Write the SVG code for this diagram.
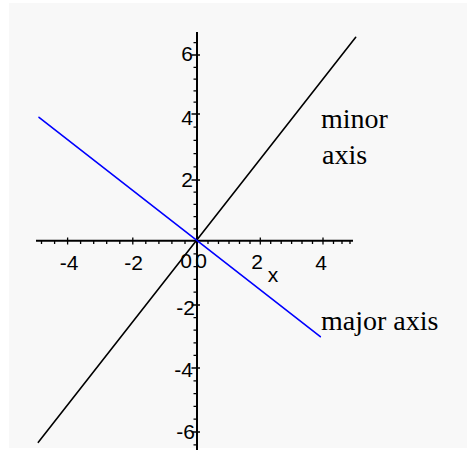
<svg xmlns="http://www.w3.org/2000/svg" width="467" height="450" viewBox="0 0 467 450">
<style>
.ax{stroke:#000;stroke-width:2;fill:none}
.tk{stroke:#000;stroke-width:1.3;fill:none}
.num{font-family:"Liberation Sans",Arial,sans-serif;font-size:21px;fill:#000}
.lbl{font-family:"Liberation Serif","Times New Roman",serif;font-size:28px;fill:#000}
.cv{fill:none;stroke-width:1.6;stroke-linecap:round}
</style>
<rect x="0" y="0" width="467" height="450" fill="#ffffff"/>
<rect x="9" y="3" width="458" height="445" fill="#f8f8f8"/>
<g id="axes">
<line class="ax" x1="36" y1="240.7" x2="353" y2="240.7"/>
<line class="ax" x1="197" y1="32" x2="197" y2="450"/>
</g>
<g id="x-ticks">
<path class="tk" d="M67.6 237.5V244.5M132.8 237.5V244.5M260.3 237.5V244.5M323 237.5V244.5"/>
<path class="tk" d="M41.5 240.7V244M54.6 240.7V244M80.6 240.7V244M93.7 240.7V244M106.7 240.7V244M119.8 240.7V244M145.8 240.7V244M158.9 240.7V244M171.9 240.7V244M185 240.7V244M208 240.7V244M218.5 240.7V244M229 240.7V244M239.5 240.7V244M250 240.7V244M270.7 240.7V244M281.2 240.7V244M291.6 240.7V244M302 240.7V244M312.5 240.7V244M333.5 240.7V244M342 240.7V244M350 240.7V244"/>
</g>
<g id="y-ticks">
<path class="tk" d="M191.5 55H200M191.5 114H200M191.5 180H200M191.5 305H200M191.5 368H200M191.5 432H200"/>
<path class="tk" d="M193.5 42.6H197M193.5 67.3H197M193.5 79.1H197M193.5 90.9H197M193.5 102.2H197M193.5 127.2H197M193.5 140.4H197M193.5 153.6H197M193.5 166.8H197M193.5 192.2H197M193.5 204.4H197M193.5 216.6H197M193.5 228.8H197M193.5 253.8H197M193.5 266.6H197M193.5 279.4H197M193.5 292.2H197M193.5 317.6H197M193.5 330.2H197M193.5 342.8H197M193.5 355.4H197M193.5 380.8H197M193.5 393.6H197M193.5 406.4H197M193.5 419.2H197M193.5 444.8H197"/>
</g>
<g id="x-labels">
<text class="num" x="69" y="270" text-anchor="middle">-4</text>
<text class="num" x="133.5" y="270" text-anchor="middle">-2</text>
<text class="num" x="201" y="268" text-anchor="middle">0</text>
<text class="num" x="257" y="268.5" text-anchor="middle">2</text>
<text class="num" x="321" y="270" text-anchor="middle">4</text>
<text class="num" x="273" y="282" text-anchor="middle">x</text>
</g>
<g id="y-labels">
<text class="num" x="193" y="61" text-anchor="end">6</text>
<text class="num" x="193" y="124.5" text-anchor="end">4</text>
<text class="num" x="193" y="186.5" text-anchor="end">2</text>
<text class="num" x="192" y="267.5" text-anchor="end">0</text>
<text class="num" x="195" y="315" text-anchor="end">-2</text>
<text class="num" x="193" y="377" text-anchor="end">-4</text>
<text class="num" x="195" y="438.5" text-anchor="end">-6</text>
</g>
<g id="curves">
<line id="minor-axis-line" class="cv" stroke="#000000" x1="38.3" y1="442.3" x2="355.7" y2="37.3"/>
<line id="major-axis-line" class="cv" stroke="#0000ff" x1="39" y1="117.3" x2="320.3" y2="336.7"/>
</g>
<g id="labels">
<text class="lbl" x="321" y="127.5">minor</text>
<text class="lbl" x="322" y="163.5">axis</text>
<text class="lbl" x="321" y="330">major axis</text>
</g>
</svg>
